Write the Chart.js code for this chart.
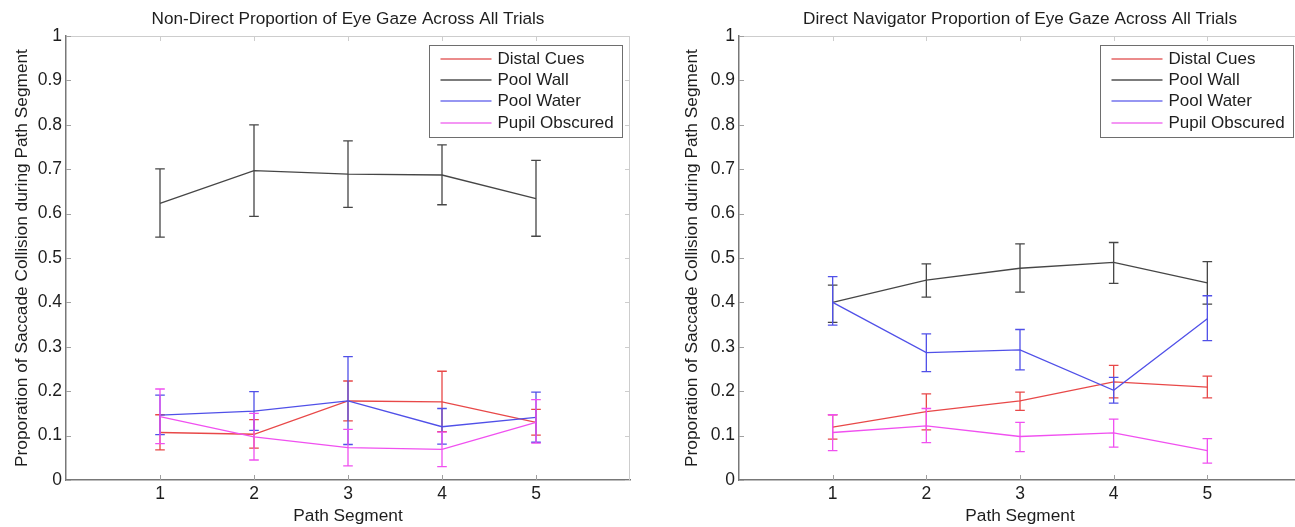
<!DOCTYPE html>
<html>
<head>
<meta charset="utf-8">
<title>Proportion of Eye Gaze Across All Trials</title>
<script src="https://cdn.jsdelivr.net/npm/chart.js@4.4.1/dist/chart.umd.min.js"></script>
<style>
  html, body { margin: 0; padding: 0; background: #fff; width: 1295px; height: 527px; overflow: hidden; }
  canvas { position: absolute; top: 0; }
  #nonDirect { left: 0; }
  #direct { left: 648px; }
</style>
</head>
<body>
<canvas id="nonDirect" width="648" height="527"></canvas>
<canvas id="direct" width="660" height="527"></canvas>
<script>
// Path segments on the x axis
const segments = [1, 2, 3, 4, 5];
const seriesNames = ['Distal Cues', 'Pool Wall', 'Pool Water', 'Pupil Obscured'];
const yTicks = [0, 0.1, 0.2, 0.3, 0.4, 0.5, 0.6, 0.7, 0.8, 0.9, 1];

// Non-direct navigators: mean proportion with lower / upper error limits
const ndDistal   = [0.107, 0.103, 0.178, 0.176, 0.130];
const ndDistalLo = [0.068, 0.072, 0.133, 0.109, 0.101];
const ndDistalHi = [0.147, 0.136, 0.223, 0.245, 0.159];
const ndWall     = [0.623, 0.697, 0.689, 0.687, 0.634];
const ndWallLo   = [0.547, 0.594, 0.614, 0.620, 0.549];
const ndWallHi   = [0.701, 0.800, 0.764, 0.755, 0.720];
const ndWater    = [0.146, 0.155, 0.178, 0.120, 0.141];
const ndWaterLo  = [0.102, 0.112, 0.080, 0.081, 0.085];
const ndWaterHi  = [0.191, 0.199, 0.278, 0.161, 0.198];
const ndPupil    = [0.143, 0.097, 0.073, 0.069, 0.130];
const ndPupilLo  = [0.082, 0.045, 0.032, 0.030, 0.083];
const ndPupilHi  = [0.205, 0.150, 0.114, 0.108, 0.181];

// Direct navigators
const dDistal    = [0.119, 0.154, 0.178, 0.221, 0.209];
const dDistalLo  = [0.092, 0.113, 0.157, 0.185, 0.185];
const dDistalHi  = [0.147, 0.194, 0.198, 0.258, 0.234];
const dWall      = [0.400, 0.450, 0.477, 0.490, 0.444];
const dWallLo    = [0.355, 0.412, 0.423, 0.443, 0.396];
const dWallHi    = [0.439, 0.487, 0.532, 0.535, 0.492];
const dWater     = [0.400, 0.287, 0.293, 0.202, 0.363];
const dWaterLo   = [0.349, 0.244, 0.248, 0.173, 0.314];
const dWaterHi   = [0.458, 0.329, 0.339, 0.231, 0.415];
const dPupil     = [0.107, 0.122, 0.098, 0.106, 0.066];
const dPupilLo   = [0.066, 0.084, 0.064, 0.074, 0.038];
const dPupilHi   = [0.147, 0.161, 0.130, 0.137, 0.093];

const lineColors = ['rgb(232,72,72)', 'rgb(70,70,70)', 'rgb(80,80,232)', 'rgb(240,80,240)'];
const legendColors = ['rgb(228,100,100)', 'rgb(80,80,80)', 'rgb(115,115,238)', 'rgb(240,115,240)'];
const FONT = "'Liberation Sans', Arial, Helvetica, sans-serif";
const TEXT = '#1e1e1e';
const AXIS = 'rgb(120,120,120)';
const BOX = 'rgb(205,205,205)';
const FS = 17.3;

Chart.defaults.font.family = FONT;
Chart.defaults.color = TEXT;

// Vertical error bars with end caps, drawn in each dataset's colour
const errorBars = {
  id: 'errorBars',
  afterDatasetDraw(chart, args) {
    const ds = chart.data.datasets[args.index];
    if (!ds.errLow) return;
    const { ctx, scales: { x, y } } = chart;
    const half = 4.8;
    ctx.save();
    ctx.strokeStyle = ds.borderColor;
    ctx.lineWidth = ds.borderWidth;
    ds.data.forEach((p, i) => {
      const px = x.getPixelForValue(p.x);
      const lo = y.getPixelForValue(ds.errLow[i]);
      const hi = y.getPixelForValue(ds.errHigh[i]);
      ctx.beginPath();
      ctx.moveTo(px, lo); ctx.lineTo(px, hi);
      ctx.moveTo(px - half, lo); ctx.lineTo(px + half, lo);
      ctx.moveTo(px - half, hi); ctx.lineTo(px + half, hi);
      ctx.stroke();
    });
    ctx.restore();
  }
};

// Boxed axes: light top/right edges and inward tick marks
const axesFrame = {
  id: 'axesFrame',
  beforeDatasetsDraw(chart) {
    const { ctx, chartArea: a, scales: { x, y } } = chart;
    const len = 5;
    ctx.save();
    ctx.lineWidth = 1;
    ctx.strokeStyle = BOX;
    ctx.beginPath();
    ctx.moveTo(a.left, Math.round(a.top) + 0.5); ctx.lineTo(a.right, Math.round(a.top) + 0.5);
    ctx.moveTo(Math.round(a.right) - 0.5, a.top); ctx.lineTo(Math.round(a.right) - 0.5, a.bottom);
    x.ticks.forEach(t => {
      const px = Math.round(x.getPixelForValue(t.value)) + 0.5;
      ctx.moveTo(px, a.top); ctx.lineTo(px, a.top + len);
    });
    y.ticks.forEach(t => {
      const py = Math.round(y.getPixelForValue(t.value)) + 0.5;
      ctx.moveTo(a.right, py); ctx.lineTo(a.right - len, py);
    });
    ctx.stroke();
    ctx.strokeStyle = 'rgb(160,160,160)';
    ctx.beginPath();
    x.ticks.forEach(t => {
      const px = Math.round(x.getPixelForValue(t.value)) + 0.5;
      ctx.moveTo(px, a.bottom); ctx.lineTo(px, a.bottom - len);
    });
    y.ticks.forEach(t => {
      const py = Math.round(y.getPixelForValue(t.value)) + 0.5;
      ctx.moveTo(a.left, py); ctx.lineTo(a.left + len, py);
    });
    ctx.stroke();
    ctx.restore();
  }
};

// Boxed legend in the upper right corner of the plot
const boxLegend = {
  id: 'boxLegend',
  afterDraw(chart) {
    const { ctx, chartArea: a } = chart;
    const w = 193, h = 92, rowH = 21.2;
    const left = Math.round(a.right - 8 - w) + 0.5;
    const top = Math.round(a.top + 9) + 0.5;
    ctx.save();
    ctx.fillStyle = '#fff';
    ctx.fillRect(left, top, w, h);
    ctx.strokeStyle = 'rgb(110,110,110)';
    ctx.lineWidth = 1;
    ctx.strokeRect(left, top, w, h);
    ctx.font = '17px ' + FONT;
    ctx.textBaseline = 'middle';
    ctx.textAlign = 'left';
    chart.data.datasets.forEach((ds, i) => {
      const cy = Math.round(top + 13.5 + i * rowH);
      ctx.strokeStyle = ds.legendColor;
      ctx.lineWidth = 1.4;
      ctx.beginPath();
      ctx.moveTo(left + 11, cy); ctx.lineTo(left + 62, cy);
      ctx.stroke();
      ctx.fillStyle = TEXT;
      ctx.fillText(ds.label, left + 68, cy + 0.5);
    });
    ctx.restore();
  }
};

function makeSeries(values, lo, hi, i) {
  return {
    label: seriesNames[i],
    data: segments.map((s, k) => ({ x: s, y: values[k] })),
    errLow: lo,
    errHigh: hi,
    borderColor: lineColors[i],
    legendColor: legendColors[i],
    borderWidth: 1.3,
    pointRadius: 0,
    pointHoverRadius: 0,
    tension: 0,
    fill: false,
    order: 3 - i
  };
}

function buildChart(id, titleText, datasets, yWidth, yTitlePad, padRight) {
  return new Chart(document.getElementById(id), {
    type: 'line',
    data: { datasets },
    options: {
      responsive: false,
      animation: false,
      devicePixelRatio: 1,
      layout: { padding: { left: 0, right: padRight, top: 0, bottom: 0 } },
      plugins: {
        legend: { display: false },
        tooltip: { enabled: false },
        title: {
          display: true,
          text: titleText,
          fullSize: false,
          color: TEXT,
          font: { size: 17.2, weight: 'normal' },
          padding: { top: 8.8, bottom: 6.6 }
        }
      },
      scales: {
        x: {
          type: 'linear',
          min: 0,
          max: 6,
          afterBuildTicks: s => { s.ticks = segments.map(v => ({ value: v })); },
          afterFit: s => { s.height = 47; },
          grid: { display: false, drawTicks: false },
          border: { display: true, color: AXIS, width: 1.5 },
          ticks: { autoSkip: false, maxRotation: 0, padding: 4, color: TEXT, font: { size: 17.5 } },
          title: { display: true, text: 'Path Segment', color: TEXT, font: { size: FS }, padding: { top: 0, bottom: 0.6 } }
        },
        y: {
          min: 0,
          max: 1,
          afterBuildTicks: s => { s.ticks = yTicks.map(v => ({ value: v })); },
          afterFit: s => { s.width = yWidth; },
          grid: { display: false, drawTicks: false },
          border: { display: true, color: AXIS, width: 1.5 },
          ticks: { autoSkip: false, padding: 4, color: TEXT, font: { size: 17.5 },
                   callback: v => String(Number(v.toFixed(1))) },
          title: { display: true, text: 'Proporation of Saccade Collision during Path Segment',
                   color: TEXT, font: { size: FS }, padding: { top: yTitlePad, bottom: 0 } }
        }
      }
    },
    plugins: [axesFrame, errorBars, boxLegend]
  });
}

buildChart('nonDirect', 'Non-Direct Proportion of Eye Gaze Across All Trials', [
  makeSeries(ndDistal, ndDistalLo, ndDistalHi, 0),
  makeSeries(ndWall, ndWallLo, ndWallHi, 1),
  makeSeries(ndWater, ndWaterLo, ndWaterHi, 2),
  makeSeries(ndPupil, ndPupilLo, ndPupilHi, 3)
], 66, 11.5, 18);

buildChart('direct', 'Direct Navigator Proportion of Eye Gaze Across All Trials', [
  makeSeries(dDistal, dDistalLo, dDistalHi, 0),
  makeSeries(dWall, dWallLo, dWallHi, 1),
  makeSeries(dWater, dWaterLo, dWaterHi, 2),
  makeSeries(dPupil, dPupilLo, dPupilHi, 3)
], 91, 33.5, 7);
</script>
</body>
</html>
